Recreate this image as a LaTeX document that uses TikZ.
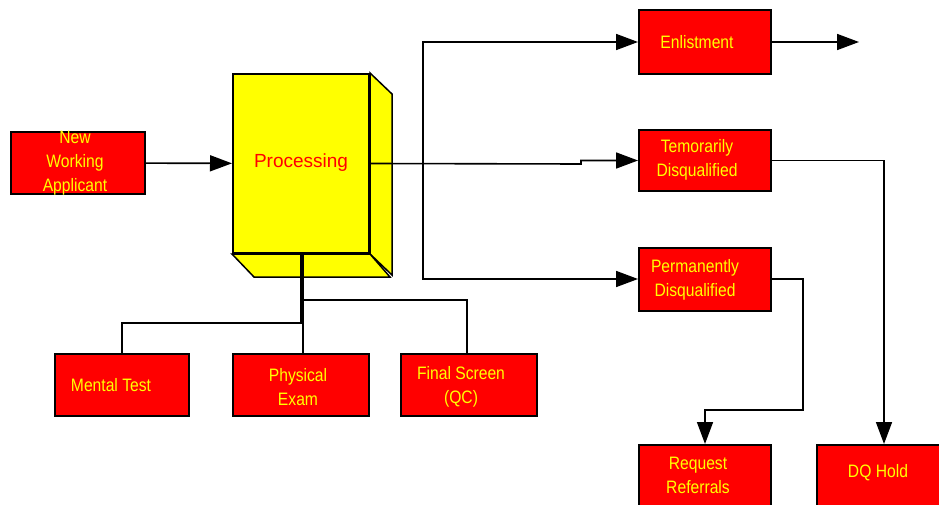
\documentclass[tikz,border=0pt]{standalone}
\usepackage{fontspec}
\setmainfont{Liberation Sans}
\newfontfamily\narrowsans[FakeStretch=0.87]{Liberation Sans}
\usetikzlibrary{arrows.meta,backgrounds}
\definecolor{boxred}{RGB}{255,0,0}
\definecolor{boxyellow}{RGB}{255,255,0}
\begin{document}
\begin{tikzpicture}[x=1pt,y=-1pt,
  box/.style={draw=black, line width=2pt, fill=boxred, inner sep=0pt,
              minimum width=132pt, minimum height=62pt},
  procbox/.style={draw=black, line width=2pt, fill=boxyellow, inner sep=0pt,
              minimum width=136pt, minimum height=179pt},
  face/.style={draw=black, line width=1.5pt, fill=boxyellow, line join=miter},
  lbl/.style={text=boxyellow, align=center, inner sep=0pt,
              font=\narrowsans\fontsize{18}{24}\selectfont},
  proclbl/.style={text=boxred, inner sep=0pt, font=\fontsize{19}{23}\selectfont},
  line/.style={draw=black, line width=1.6pt},
  conn/.style={line, -{Triangle[length=22pt,width=16pt]}}]
\clip (0,0) rectangle (939,505);
\useasboundingbox (0,0) rectangle (939,505);

% intake and the processing block
\node[box, minimum width=134pt] (new) at (78,163) {};
\node[procbox] (proc) at (301,163.5) {};
\begin{scope}[on background layer]
  \draw[face] (proc.north east) -- ++(22,21) -- ++(0,181) -- (proc.south east) -- cycle;
  \draw[face] (proc.south west) -- ++(22,23) -- ++(136,0) -- (proc.south east) -- cycle;
\end{scope}

% outcomes
\node[box, minimum height=64pt] (enl) at (705,42) {};
\node[box, minimum height=61pt] (tmp) at (705,160.5) {};
\node[box, minimum height=63pt] (perm) at (705,279) {};
\node[box, minimum height=74pt] (req) at (705,482) {};
\node[box, minimum width=134pt, minimum height=74pt] (dq) at (884,482) {};

% processing steps
\node[box, minimum width=134pt] (mental) at (122,385) {};
\node[box, minimum width=136pt] (phys) at (301,385) {};
\node[box, minimum width=136pt] (final) at (469,385) {};

% labels
\node[lbl] (new-t) at (75,163) {New\\Working\\Applicant};
\node[proclbl] (proc-t) at (301,163) {Processing};
\node[lbl] (enl-t) at (697,42) {Enlistment};
\node[lbl] (tmp-t) at (697,160) {Temorarily\\Disqualified};
\node[lbl] (perm-t) at (695,280) {Permanently\\Disqualified};
\node[lbl] (req-t) at (698,475) {Request\\Referrals};
\node[lbl] (dq-t) at (878,473) {DQ Hold};
\node[lbl] (mental-t) at (111,385) {Mental Test};
\node[lbl] (phys-t) at (298,387) {Physical\\Exam};
\node[lbl] (final-t) at (461,387) {Final Screen\\(QC)};

% routing points
\coordinate (split) at (423,164);
\coordinate (jog) at (581,164);
\coordinate (out) at (859,42);
\coordinate (pbend) at (803,410);
\coordinate (fbr) at (303,300);

% connectors
\draw[conn] (new) -- (proc);
\draw[conn] (proc.east) -- (jog) |- (tmp.west);
\draw[conn] (split) |- (enl.west);
\draw[conn] (split) |- (perm.west);
\draw[conn] (enl.east) -- (out);
\draw[conn] (tmp.east) -| (dq.north);
\draw[conn] (perm.east) -| (pbend) -| (req.north);

\draw[line] (proc.south) -- ++(0,69) -| (mental.north);
\draw[line] ([xshift=2pt]proc.south) -- ([xshift=2pt]phys.north);
\draw[line] (fbr) -| ([xshift=-2pt]final.north);
\end{tikzpicture}
\end{document}
